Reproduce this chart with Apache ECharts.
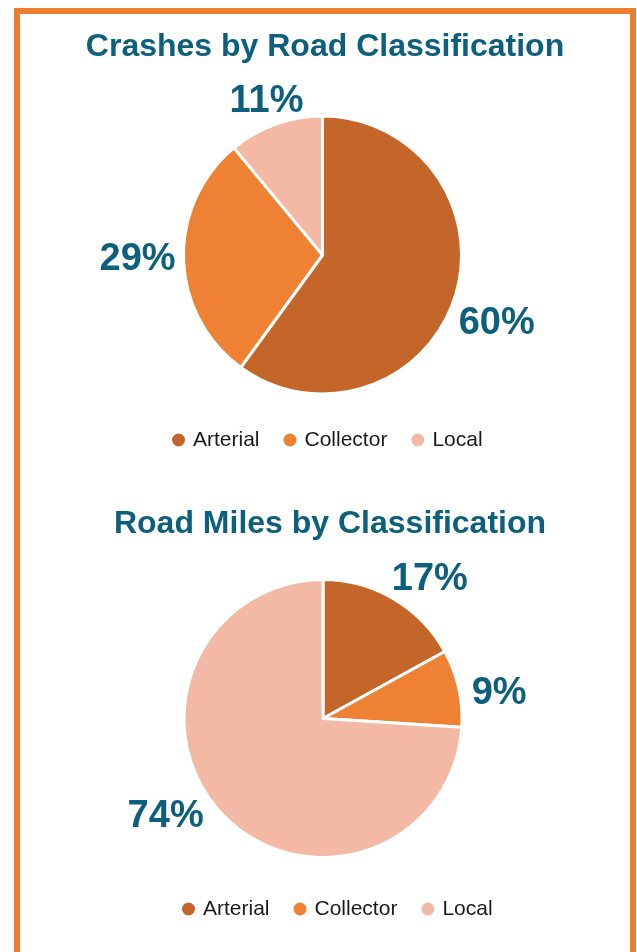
<!DOCTYPE html>
<html>
<head>
<meta charset="utf-8">
<script src="https://cdn.jsdelivr.net/npm/echarts@6/dist/echarts.min.js"></script>
<style>
  html, body { margin: 0; padding: 0; background: #ffffff; overflow: hidden; }
  #frame { position: absolute; left: 14px; top: 8px; width: 622px; height: 1000px; box-sizing: border-box; border: 6px solid #ED7D2F; }
  #chart { position: absolute; left: 0; top: 0; width: 637px; height: 952px; }
</style>
</head>
<body>
<div id="frame"></div>
<div id="chart"></div>
<script>
// ---- data ----
const categories = ['Arterial', 'Collector', 'Local'];
const crashShares = [60, 29, 11];
const mileShares = [17, 9, 74];
const chartTitles = ['Crashes by Road Classification', 'Road Miles by Classification'];

// ---- style ----
const sliceColors = ['#C4652A', '#EE8134', '#F3B9A5'];
const teal = '#0C5F7D';
// small label nudges (layout only)
const labelNudges = [
  [[-1, 26], [-3, 0], [33, -23]],
  [[-7, -19], [8, 5], [-13, 3]]
];

function toData(values) {
  return categories.map((c, i) => ({ name: c, value: values[i], itemStyle: { color: sliceColors[i] } }));
}

function pieSeries(values, center, idx) {
  return {
    type: 'pie',
    center: center,
    radius: 139,
    startAngle: 90,
    clockwise: true,
    avoidLabelOverlap: false,
    silent: true,
    itemStyle: { borderColor: '#ffffff', borderWidth: 3 },
    label: {
      show: true,
      position: 'outside',
      formatter: '{c}%',
      fontFamily: "'Liberation Sans', Arial, sans-serif",
      fontWeight: 'bold',
      fontSize: 38,
      color: teal
    },
    labelLine: { show: false, length: 0, length2: 0 },
    labelLayout: function (p) {
      const n = labelNudges[idx][p.dataIndex];
      return { dx: n[0], dy: n[1] };
    },
    data: toData(values)
  };
}

const legendText = {
  fontFamily: "'Liberation Sans', Arial, sans-serif",
  fontSize: 21,
  lineHeight: 26,
  color: '#1a1a1a',
  padding: [0, 0, 0, 2]
};

const chart = echarts.init(document.getElementById('chart'), null, { renderer: 'canvas' });
chart.setOption({
  backgroundColor: 'transparent',
  animation: false,
  title: [
    { text: chartTitles[0], left: 325, top: 31, textAlign: 'center', padding: 0,
      textStyle: { fontFamily: "'Liberation Sans', Arial, sans-serif", fontWeight: 'bold', fontSize: 32, color: teal } },
    { text: chartTitles[1], left: 330, top: 508, textAlign: 'center', padding: 0,
      textStyle: { fontFamily: "'Liberation Sans', Arial, sans-serif", fontWeight: 'bold', fontSize: 32, color: teal } }
  ],
  legend: [
    { data: categories, left: 170, top: 427, padding: 0, orient: 'horizontal', icon: 'circle',
      itemWidth: 15, itemHeight: 15, itemGap: 22, textStyle: legendText, selectedMode: false },
    { data: categories, left: 180, top: 896, padding: 0, orient: 'horizontal', icon: 'circle',
      itemWidth: 15, itemHeight: 15, itemGap: 22, textStyle: legendText, selectedMode: false }
  ],
  series: [
    pieSeries(crashShares, [322.5, 255], 0),
    pieSeries(mileShares, [323, 718.5], 1)
  ]
});
</script>
</body>
</html>
